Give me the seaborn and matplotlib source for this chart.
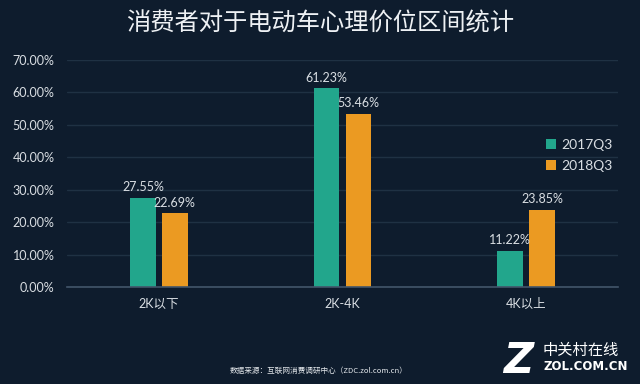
import pandas as pd
import matplotlib
matplotlib.use("Agg")
import matplotlib.pyplot as plt
import seaborn as sns

# Data
categories = ["2K以下", "2K-4K", "4K以上"]
years = ["2017Q3", "2018Q3"]
v2017 = [27.55, 61.23, 11.22]
v2018 = [22.69, 53.46, 23.85]
yticks = [0, 10, 20, 30, 40, 50, 60, 70]

df = pd.DataFrame({
    "cat": categories * 2,
    "year": [years[0]] * 3 + [years[1]] * 3,
    "value": v2017 + v2018,
})

bg = "#0e1c2d"
txt = "#d9dee3"
palette = {"2017Q3": "#22a68c", "2018Q3": "#eb9a22"}

sns.set_theme(style="dark")
plt.rcParams["font.family"] = ["Lato", "Noto Sans CJK SC", "DejaVu Sans"]

fig = plt.figure(figsize=(6.4, 3.84), dpi=100, facecolor=bg)
ax = fig.add_axes([67 / 640, 1 - 287 / 384, (618 - 67) / 640, (287 - 60) / 384])
ax.set_facecolor(bg)

sns.barplot(data=df, x="cat", y="value", hue="year", palette=palette,
            width=0.348, gap=0.19, saturation=1, linewidth=0, ax=ax, legend=True)

for cont in ax.containers:
    ax.bar_label(cont, labels=["%.2f%%" % v for v in cont.datavalues],
                 padding=3, color=txt, fontsize=9)

ax.set_ylim(0, 70)
ax.set_xlim(-0.5, 2.5)
ax.set_yticks(yticks)
ax.set_yticklabels(["%.2f%%" % t for t in yticks])
ax.set_xlabel("")
ax.set_ylabel("")
ax.grid(axis="y", color="#1f3143", linewidth=1)
ax.grid(axis="x", visible=False)
ax.set_axisbelow(True)
for s in ["top", "right", "left"]:
    ax.spines[s].set_visible(False)
ax.spines["bottom"].set_color("#42556a")
ax.spines["bottom"].set_linewidth(1.2)
ax.tick_params(axis="y", length=0, pad=9, colors=txt, labelsize=9)
ax.tick_params(axis="x", length=0, pad=8, colors=txt, labelsize=9)

leg = ax.legend(loc="center right", bbox_to_anchor=(1.0, 0.58), frameon=False,
                fontsize=10, handlelength=0.7, handleheight=0.7,
                handletextpad=0.4, labelspacing=0.6, borderaxespad=0)
for t in leg.get_texts():
    t.set_color(txt)
for h in leg.legend_handles:
    h.set_linewidth(0)

fig.text(0.5, 1 - 24 / 384, "消费者对于电动车心理价位区间统计", ha="center", va="center",
         fontsize=17.5, color="#eef1f4", family=["Noto Sans CJK SC", "DejaVu Sans"])

fig.text(319 / 640, 1 - 371 / 384, "数据来源：互联网消费调研中心（ZDC.zol.com.cn）",
         ha="center", va="center", fontsize=5.5, color="#e2e6ea",
         family=["Noto Sans CJK SC", "DejaVu Sans"])

# watermark
fig.text(518 / 640, 1 - 361 / 384, "Z", ha="center", va="center", fontsize=30,
         color="white", fontweight="bold", style="italic", family="DejaVu Sans")
fig.text(543 / 640, 1 - 350 / 384, "中关村在线", ha="left", va="center", fontsize=11,
         color="white", family=["Noto Sans CJK SC", "DejaVu Sans"])
fig.text(543 / 640, 1 - 366 / 384, "ZOL.COM.CN", ha="left", va="center", fontsize=8.5,
         color="white", fontweight="bold", family="DejaVu Sans")

fig.savefig("out.png", dpi=100, facecolor=bg)
